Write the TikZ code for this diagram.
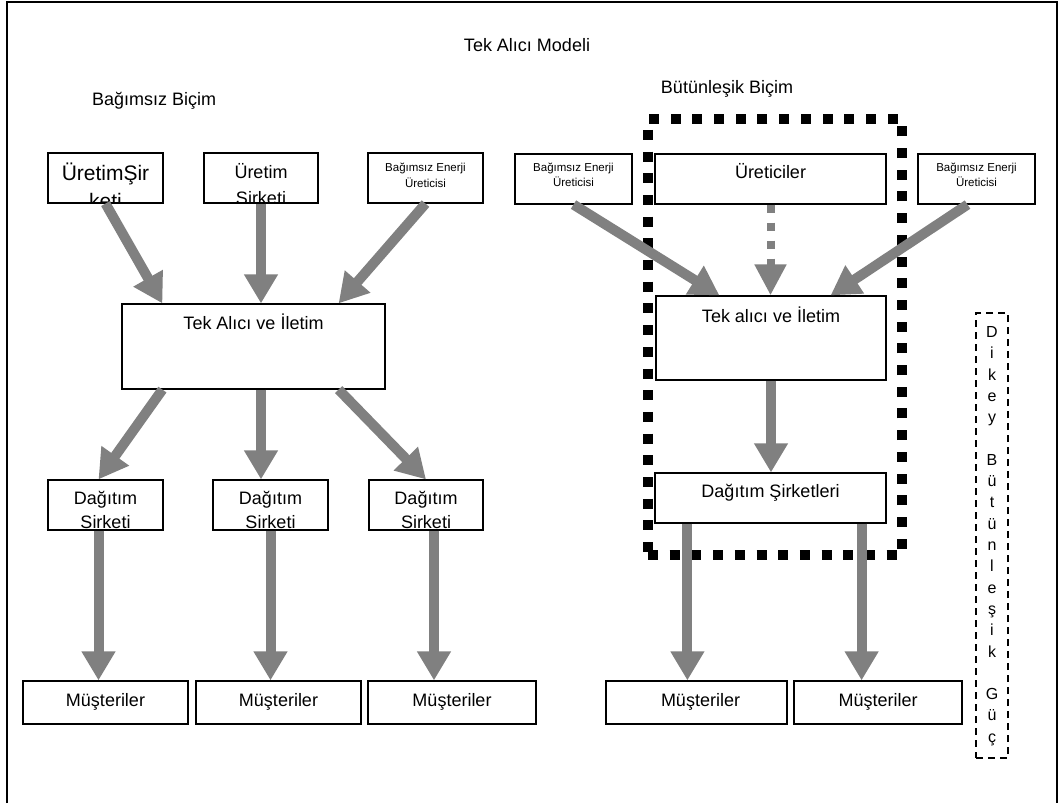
\documentclass[tikz,border=0pt]{standalone}
\usepackage{fontspec}
\setmainfont{Liberation Sans}
\usetikzlibrary{arrows.meta,calc}
\definecolor{flowgray}{HTML}{808080}
\begin{document}
\begin{tikzpicture}[x=1pt,y=-1pt,
  box/.style={draw=black,line width=1.2pt,inner sep=0pt,anchor=center},
  txt/.style={inner sep=0pt,anchor=base,font=\fontsize{18}{22}\selectfont},
  small/.style={inner sep=0pt,anchor=base,font=\fontsize{11.5}{14}\selectfont},
  flow/.style={draw=flowgray,line width=10pt,-{Triangle[width=32pt,length=29pt,fill=flowgray]}},
  flowdash/.style={draw=flowgray,line width=8pt,dash pattern=on 8pt off 10pt,
    -{Triangle[width=30pt,length=31pt,fill=flowgray]}},
  group/.style={draw=black,line width=10pt,dash pattern=on 10pt off 11.7pt,inner sep=0pt},
  vbox/.style={draw=black,line width=1.5pt,dash pattern=on 7pt off 5pt,inner sep=0pt}
]
% canvas and outer frame
\fill[white] (0,0) rectangle (1059,803);
\useasboundingbox (0,0) rectangle (1059,803);
\draw[line width=1.5pt] (7,803) -- (7,2) -- (1057,2) -- (1057,803);

% headings
\node[txt] (title) at (527,51) {Tek Alıcı Modeli};
\node[txt,anchor=base west] (hleft) at (92,105) {Bağımsız Biçim};
\node[txt] (hright) at (727,93) {Bütünleşik Biçim};

% ---------- independent form ----------
\node[box,minimum width=115pt,minimum height=50pt] (g1) at (105.5,178) {};
\node[box,minimum width=114pt,minimum height=50pt] (g2) at (261,178) {};
\node[box,minimum width=115pt,minimum height=50pt] (g3) at (425.5,178) {};
\begin{scope}
  \clip (g1.south west) rectangle (g1.north east);
  \node[txt,font=\fontsize{21}{25}\selectfont] (g1a) at (105.5,180) {ÜretimŞir};
  \node[txt,font=\fontsize{21}{25}\selectfont] (g1b) at (105.5,208) {keti};
\end{scope}
\begin{scope}
  \clip (g2.south west) rectangle (g2.north east);
  \node[txt] (g2a) at (261,178) {Üretim};
  \node[txt] (g2b) at (261,204) {Sirketi};
\end{scope}
\node[small] (g3a) at (425.5,171) {Bağımsız Enerji};
\node[small] (g3b) at (425.5,187) {Üreticisi};

\node[box,minimum width=263pt,minimum height=85pt] (ta) at (253.5,346.5) {};
\node[txt] (tat) at (253.5,329) {Tek Alıcı ve İletim};

\node[box,minimum width=115pt,minimum height=50pt] (d1) at (105.5,505) {};
\node[box,minimum width=115pt,minimum height=50pt] (d2) at (270.5,505) {};
\node[box,minimum width=114pt,minimum height=50pt] (d3) at (426,505) {};
\foreach \b in {d1,d2,d3}{
  \begin{scope}
    \clip (\b.south west) rectangle (\b.north east);
    \node[txt] (\b a) at ($(\b.center)+(0,0)$) [yshift=-0.5pt] {\phantom{x}};
    \path (\b.center) ++(0,0) node[txt] (\b t) at ($(\b.north)+(0,25)$) {Dağıtım}
          node[txt] (\b u) at ($(\b.north)+(0,49)$) {Sirketi};
  \end{scope}
}

\node[box,minimum width=165pt,minimum height=43pt] (m1) at (105.5,702.5) {};
\node[box,minimum width=165pt,minimum height=43pt] (m2) at (278.5,702.5) {};
\node[box,minimum width=168pt,minimum height=43pt] (m3) at (452,702.5) {};
\foreach \b in {m1,m2,m3}{
  \node[txt] (\b t) at ($(\b.north)+(0,26)$) {Müşteriler};
}

% flows of the independent form
\draw[flow] (g1.south) -- ($(ta.north west)+(41,0)$);
\draw[flow] (g2.south) -- (g2.south |- ta.north);
\draw[flow] (g3.south) -- ($(ta.north east)+(-47,0)$);
\draw[flow] ($(ta.south west)+(41,0)$) -- ($(d1.north)+(-7,0)$);
\draw[flow] (g2.south |- ta.south) -- (g2.south |- d2.north);
\draw[flow] ($(ta.south east)+(-47,0)$) -- (d3.north);
\coordinate (c1s) at ($(d1.south)+(-7,0)$);
\coordinate (c3s) at ($(d3.south)+(8,0)$);
\draw[flow] (c1s) -- (c1s |- m1.north);
\draw[flow] (d2.south) -- (d2.south |- m2.north);
\draw[flow] (c3s) -- (c3s |- m3.north);

% ---------- integrated form ----------
\node[group,minimum width=254pt,minimum height=436pt] (grp) at (775,337) {};

\node[box,minimum width=117pt,minimum height=50pt] (r1) at (573.5,179) {};
\node[small] (r1a) at (573.5,171) {Bağımsız Enerji};
\node[small] (r1b) at (573.5,186) {Üreticisi};
\node[box,minimum width=231pt,minimum height=50pt] (up) at (770.5,179) {};
\node[txt] (upt) at (770.5,178) {Üreticiler};
\node[box,minimum width=117pt,minimum height=50pt] (r2) at (976.5,179) {};
\node[small] (r2a) at (976.5,171) {Bağımsız Enerji};
\node[small] (r2b) at (976.5,186) {Üreticisi};

\node[box,minimum width=230pt,minimum height=84pt] (tr) at (771,338) {};
\node[txt] (trt) at (771,322) {Tek alıcı ve İletim};

\node[box,minimum width=231pt,minimum height=50pt] (ds) at (770.5,498) {};
\node[txt] (dst) at (770.5,497) {Dağıtım Şirketleri};

\node[box,minimum width=181pt,minimum height=43pt] (mr1) at (696.5,702.5) {};
\node[box,minimum width=168pt,minimum height=43pt] (mr2) at (878,702.5) {};
\node[txt] (mr1t) at ($(mr1.north)+(4,26)$) {Müşteriler};
\node[txt] (mr2t) at ($(mr2.north)+(0,26)$) {Müşteriler};

% flows of the integrated form
\draw[flow] (r1.south) -- ($(tr.north west)+(64,0)$);
\draw[flowdash] (up.south) -- (up.south |- tr.north);
\draw[flow] ($(r2.south)+(-9,0)$) -- ($(tr.north east)+(-56,0)$);
\draw[flow] (tr.south) -- (tr.south |- ds.north);
\coordinate (h1s) at ($(ds.south west)+(33,0)$);
\coordinate (h2s) at ($(ds.south east)+(-25,0)$);
\draw[flow] (h1s) -- (h1s |- mr1.north);
\draw[flow] (h2s) -- (h2s |- mr2.north);

% vertical label box
\node[vbox,minimum width=32pt,minimum height=445pt] (vb) at (992,535.5) {};
\foreach \ch [count=\i from 0] in {D,i,k,e,y,{},B,ü,t,ü,n,l,e,ş,i,k,{},G,ü,ç}{
  \node[inner sep=0pt,anchor=base,font=\fontsize{16}{19}\selectfont] (dk\i)
    at (992,{332+21.3*\i+5.5}) {\ch};
}
\end{tikzpicture}
\end{document}
